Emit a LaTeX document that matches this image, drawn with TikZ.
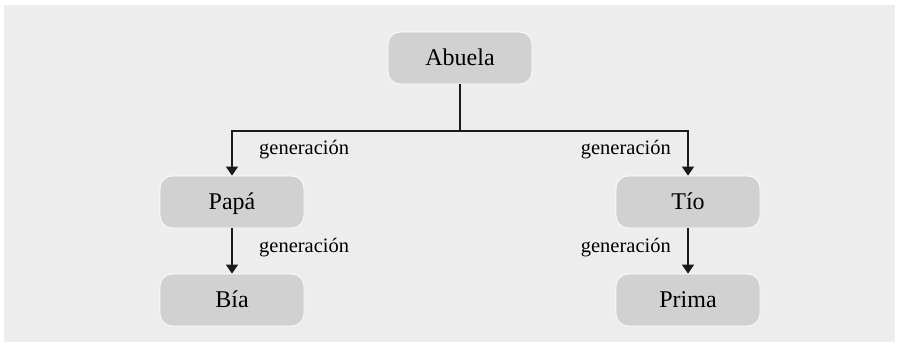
\documentclass[tikz,border=0pt]{standalone}
\usepackage{fontspec}
\setmainfont{Liberation Serif}
\usetikzlibrary{arrows.meta}
\definecolor{bgc}{HTML}{EDEDED}
\definecolor{boxc}{HTML}{D1D1D1}
\definecolor{linec}{HTML}{1A1A1A}
\begin{document}
\begin{tikzpicture}[x=1pt,y=-1pt,
  person/.style={fill=boxc,draw=white,line width=0.8pt,rounded corners=12pt,
    minimum width=144pt,minimum height=52pt,inner sep=0pt,
    text height=17pt,text depth=3pt,
    font=\fontsize{24}{28}\selectfont},
  link/.style={draw=linec,line width=1.4pt},
  arr/.style={link,-{Triangle[length=9pt,width=12pt]}},
  gen/.style={font=\fontsize{20.5}{24}\selectfont,inner sep=0pt,
    text height=14pt,text depth=4pt}]
  % canvas and background panel
  \useasboundingbox (0,0) rectangle (899,348);
  \fill[white] (0,0) rectangle (899,348);
  \fill[bgc] (4,5) rectangle (895,342);

  % family members
  \node[person] (abuela) at (460,58) {Abuela};
  \node[person] (papa) at (232,202) {Papá};
  \node[person] (tio) at (688,202) {Tío};
  \node[person] (bia) at (232,300) {Bía};
  \node[person] (prima) at (688,300) {Prima};

  % branching point below the grandmother
  \coordinate (fork) at (460,131);

  \draw[link] (abuela.south) -- (fork);
  \draw[arr] (fork) -| (papa.north);
  \draw[arr] (fork) -| (tio.north);
  \draw[arr] (papa.south) -- (bia.north);
  \draw[arr] (tio.south) -- (prima.north);

  % edge labels
  \node[gen,anchor=west] (g1) at (259,149) {generación};
  \node[gen,anchor=east] (g2) at (671,149) {generación};
  \node[gen,anchor=west] (g3) at (259,247) {generación};
  \node[gen,anchor=east] (g4) at (671,247) {generación};
\end{tikzpicture}
\end{document}
